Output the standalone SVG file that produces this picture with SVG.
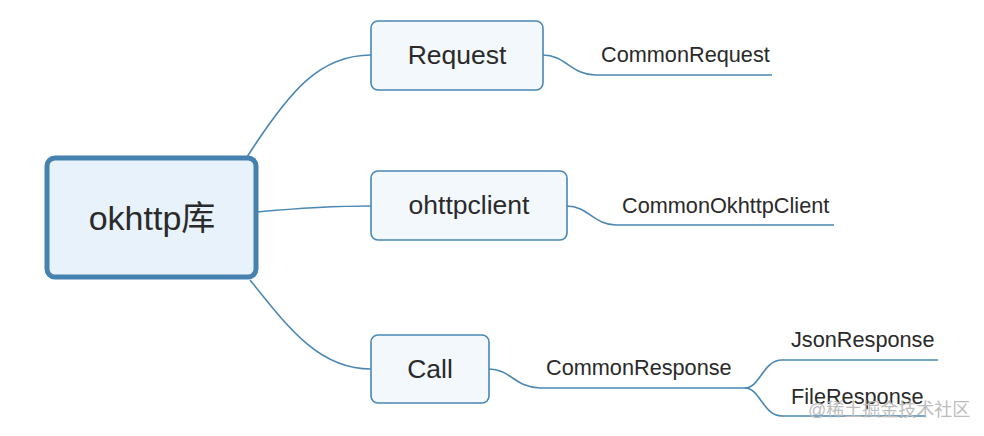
<svg xmlns="http://www.w3.org/2000/svg" width="984" height="436" viewBox="0 0 984 436">
<style>
.conn{fill:none;stroke:#4a87b3;stroke-width:1.6}
.sub{fill:#f3f8fd;stroke:#4a87b3;stroke-width:1.6}
.root{fill:#e8f2fb;stroke:#4682b0;stroke-width:5}
.t{font-family:"Liberation Sans",Arial,"Noto Sans CJK SC",sans-serif;fill:#2a2a2a}
.big{font-size:26.5px;text-anchor:middle}
.leaf{font-size:21.7px}
.wm{font-family:"Liberation Sans","Noto Sans CJK SC",sans-serif;font-size:18px;fill:#bdbdbd}
</style>
<rect width="984" height="436" fill="#ffffff"/>
<g id="connectors">
<path class="conn" d="M247,157 C290,90 320,55 371,55"/>
<path class="conn" d="M257,212 C300,208 330,206 371,206"/>
<path class="conn" d="M250,280 C290,330 320,369 371,369"/>
<path class="conn" d="M543,55 C565,55 572,75 595,75 L772,75"/>
<path class="conn" d="M567,206 C588,206 594,225 616,225 L834,225"/>
<path class="conn" d="M489,369 C510,369 516,388 540,388 L745,388"/>
<path class="conn" d="M745,388 C760,388 763,360 782,360 L938,360"/>
<path class="conn" d="M745,388 C760,388 763,416 782,416 L925,416"/>
</g>
<g id="root">
<rect class="root" x="47" y="158" width="209" height="119" rx="8"/>
<text class="t" x="152" y="230" font-size="34" text-anchor="middle">okhttp库</text>
</g>
<g id="request">
<rect class="sub" x="371" y="21" width="172" height="69" rx="7"/>
<text class="t big" x="457" y="64">Request</text>
</g>
<g id="ohttpclient">
<rect class="sub" x="371" y="171" width="196" height="69" rx="7"/>
<text class="t big" x="469" y="214">ohttpclient</text>
</g>
<g id="call">
<rect class="sub" x="371" y="335" width="118" height="68" rx="7"/>
<text class="t big" x="430" y="378">Call</text>
</g>
<g id="commonrequest"><text class="t leaf" x="601" y="62">CommonRequest</text></g>
<g id="commonokhttpclient"><text class="t leaf" x="622" y="213">CommonOkhttpClient</text></g>
<g id="commonresponse"><text class="t leaf" x="546" y="375">CommonResponse</text></g>
<g id="jsonresponse"><text class="t leaf" x="791" y="347">JsonResponse</text></g>
<g id="fileresponse"><text class="t leaf" x="791" y="404">FileResponse</text></g>
<text class="wm" x="808" y="416">@稀土掘金技术社区</text>
</svg>
